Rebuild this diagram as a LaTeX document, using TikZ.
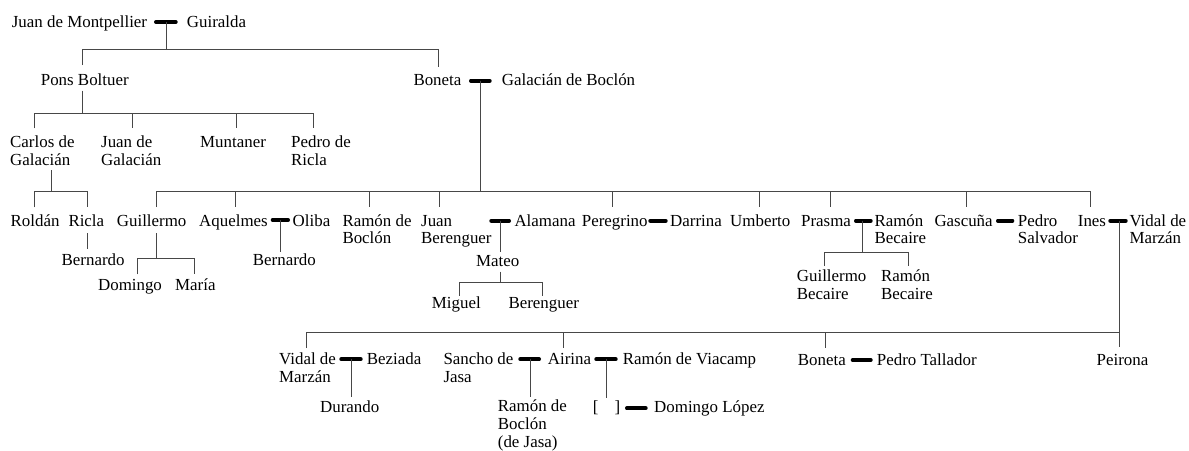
\documentclass[tikz,border=0pt]{standalone}
\usepackage{fontspec}
\setmainfont{Liberation Serif}
\begin{document}
\begin{tikzpicture}[x=1pt,y=-1pt,
  lbl/.style={anchor=base west, inner sep=0pt, font=\fontsize{16.9}{17.8}\selectfont, align=left},
  two/.style={lbl, yshift=-17.8pt},
  three/.style={lbl, yshift=-35.6pt},
  ln/.style={draw=black!72, line width=0.9pt},
  mar/.style={draw=black, line width=3.8pt, line cap=round}]
\useasboundingbox (0,0) rectangle (1189,450);
% ---------- people ----------
\node[lbl] (jm) at (11.7,27) {Juan de Montpellier};
\node[lbl] (gu) at (186.7,27) {Guiralda};
\node[lbl] (pons) at (40.7,85) {Pons Boltuer};
\node[lbl] (bon) at (413.3,85) {Boneta};
\node[lbl] (gal) at (501.7,85) {Galacián de Boclón};
\node[two] (carlos) at (10,147.7) {Carlos de\\Galacián};
\node[two] (juang) at (101,147.7) {Juan de\\Galacián};
\node[lbl] (munt) at (200,147.7) {Muntaner};
\node[two] (pedror) at (291,147.7) {Pedro de\\Ricla};
\node[lbl] (roldan) at (10.5,226) {Roldán};
\node[lbl] (ricla) at (68.3,226) {Ricla};
\node[lbl] (guill) at (116.7,226) {Guillermo};
\node[lbl] (aquel) at (199,226) {Aquelmes};
\node[lbl] (oliba) at (292.5,226) {Oliba};
\node[two] (ramonb) at (342.3,226) {Ramón de\\Boclón};
\node[two] (juanb) at (421,226) {Juan\\Berenguer};
\node[lbl] (alam) at (514.3,226) {Alamana};
\node[lbl] (pereg) at (581.7,226) {Peregrino};
\node[lbl] (darr) at (670,226) {Darrina};
\node[lbl] (umb) at (730,226) {Umberto};
\node[lbl] (prasma) at (801,226) {Prasma};
\node[two] (ramonbec) at (874.3,226) {Ramón\\Becaire};
\node[lbl] (gasc) at (934.3,226) {Gascuña};
\node[two] (pedros) at (1017.7,226) {Pedro\\Salvador};
\node[lbl] (ines) at (1077.7,226) {Ines};
\node[two] (vidal) at (1129.3,226) {Vidal de\\Marzán};
\node[lbl] (bern1) at (61.5,265) {Bernardo};
\node[lbl] (bern2) at (252.7,265) {Bernardo};
\node[lbl] (mateo) at (476,266.7) {Mateo};
\node[lbl] (domingo) at (97.9,290) {Domingo};
\node[lbl] (maria) at (175,290) {María};
\node[two] (guillb) at (796.7,281.7) {Guillermo\\Becaire};
\node[two] (ramonb2) at (881,281.7) {Ramón\\Becaire};
\node[lbl] (miguel) at (431.7,308.3) {Miguel};
\node[lbl] (bereng) at (508.3,308.3) {Berenguer};
\node[two] (vidal2) at (279,364.5) {Vidal de\\Marzán};
\node[lbl] (bez) at (366.7,364.5) {Beziada};
\node[two] (sancho) at (443.3,364.5) {Sancho de\\Jasa};
\node[lbl] (airina) at (547.7,364.5) {Airina};
\node[lbl] (ramonv) at (622.7,364.5) {Ramón de Viacamp};
\node[lbl] (bon2) at (797.7,365) {Boneta};
\node[lbl] (pedrot) at (876.7,365) {Pedro Tallador};
\node[lbl] (peir) at (1096.5,365) {Peirona};
\node[lbl] (durando) at (320,412.7) {Durando};
\node[three] (ramonbj) at (497.7,411.7) {Ramón de\\Boclón\\(de Jasa)};
\node[lbl] (unk) at (592.7,412) {[\hspace{16pt}]};
\node[lbl] (doml) at (654,412) {Domingo López};
% ---------- Juan de Montpellier + Guiralda ----------
\coordinate (m1a) at (155.9,22); \coordinate (m1b) at (175.8,22);
\coordinate (m1) at (166.3,22); \coordinate (h1) at (166.3,49.3);
\coordinate (h1l) at (82.3,49.3); \coordinate (h1r) at (438.3,49.3);
\draw[mar] (m1a) -- (m1b);
\draw[ln] (m1) -- (h1);
\draw[ln] (h1l) ++(0,15.7) -- (h1l) -- (h1r) -- ++(0,18);
% ---------- Pons Boltuer ----------
\coordinate (p0) at (82.3,90.7); \coordinate (p1) at (82.3,113.3);
\coordinate (p1l) at (34.3,113.3); \coordinate (p1r) at (313.3,113.3);
\coordinate (p1a) at (132.7,113.3); \coordinate (p1b) at (236.7,113.3);
\draw[ln] (p0) -- (p1);
\draw[ln] (p1l) ++(0,15) -- (p1l) -- (p1r) -- ++(0,15);
\draw[ln] (p1a) -- ++(0,15);
\draw[ln] (p1b) -- ++(0,15);
% Carlos de Galacian
\coordinate (c0) at (51,170); \coordinate (c1) at (51,191);
\coordinate (c1l) at (34.3,191); \coordinate (c1r) at (87.7,191);
\draw[ln] (c0) -- (c1);
\draw[ln] (c1l) ++(0,16.3) -- (c1l) -- (c1r) -- ++(0,16.3);
% Ricla
\coordinate (r0) at (87.7,233); \coordinate (r1) at (87.7,249.3);
\draw[ln] (r0) -- (r1);
% ---------- Boneta + Galacian de Boclon ----------
\coordinate (m2a) at (470.9,80.7); \coordinate (m2b) at (489.8,80.7);
\coordinate (m2) at (480,80.7); \coordinate (h2) at (480,191.7);
\coordinate (h2l) at (156.7,191.7); \coordinate (h2r) at (1090.7,191.7);
\draw[mar] (m2a) -- (m2b);
\draw[ln] (m2) -- (h2);
\draw[ln] (h2l) ++(0,15.3) -- (h2l) -- (h2r) -- ++(0,15.3);
\foreach \x in {235,369.3,439.3,612.7,759,830,966.7}
  \draw[ln] (\x,191.7) -- ++(0,15.3);
% Guillermo
\coordinate (g0) at (156.7,233); \coordinate (g1) at (156.7,258.5);
\coordinate (g1l) at (137.5,258.5); \coordinate (g1r) at (194,258.5);
\draw[ln] (g0) -- (g1);
\draw[ln] (g1l) ++(0,15.8) -- (g1l) -- (g1r) -- ++(0,15.8);
% Aquelmes + Oliba
\coordinate (m3a) at (272.6,220); \coordinate (m3b) at (288.1,220);
\coordinate (m3) at (280.5,220); \coordinate (m3d) at (280.5,252);
\draw[mar] (m3a) -- (m3b);
\draw[ln] (m3) -- (m3d);
% Juan Berenguer + Alamana
\coordinate (m4a) at (491.2,220.7); \coordinate (m4b) at (509.1,220.7);
\coordinate (m4) at (500,220.7); \coordinate (m4d) at (500,251.7);
\draw[mar] (m4a) -- (m4b);
\draw[ln] (m4) -- (m4d);
% Mateo
\coordinate (t0) at (500,271.7); \coordinate (t1) at (500,282.3);
\coordinate (t1l) at (459,282.3); \coordinate (t1r) at (542.7,282.3);
\draw[ln] (t0) -- (t1);
\draw[ln] (t1l) ++(0,13.2) -- (t1l) -- (t1r) -- ++(0,13.2);
% Peregrino + Darrina
\coordinate (m5a) at (650.2,220.7); \coordinate (m5b) at (665.8,220.7);
\draw[mar] (m5a) -- (m5b);
% Prasma + Ramon Becaire
\coordinate (m6a) at (855.9,220.7); \coordinate (m6b) at (870.8,220.7);
\coordinate (m6) at (862.7,220.7); \coordinate (m6d) at (862.7,252.7);
\coordinate (m6l) at (824.3,252.7); \coordinate (m6r) at (908.3,252.7);
\draw[mar] (m6a) -- (m6b);
\draw[ln] (m6) -- (m6d);
\draw[ln] (m6l) ++(0,13.3) -- (m6l) -- (m6r) -- ++(0,13.3);
% Gascuna + Pedro Salvador
\coordinate (m7a) at (997.9,220.7); \coordinate (m7b) at (1012.4,220.7);
\draw[mar] (m7a) -- (m7b);
% Ines + Vidal de Marzan
\coordinate (m8a) at (1110.2,220.7); \coordinate (m8b) at (1125.8,220.7);
\coordinate (m8) at (1119,220.7); \coordinate (m8d) at (1119,346.7);
\coordinate (h3l) at (306.7,332); \coordinate (h3r) at (1119,332);
\coordinate (h3a) at (563.3,332); \coordinate (h3b) at (825,332);
\draw[mar] (m8a) -- (m8b);
\draw[ln] (m8) -- (m8d);
\draw[ln] (h3l) ++(0,16) -- (h3l) -- (h3r);
\draw[ln] (h3a) -- ++(0,16);
\draw[ln] (h3b) -- ++(0,16);
% Vidal de Marzan + Beziada
\coordinate (m9a) at (341.2,359.3); \coordinate (m9b) at (360.8,359.3);
\coordinate (m9) at (351,359.3); \coordinate (m9d) at (351,397.3);
\draw[mar] (m9a) -- (m9b);
\draw[ln] (m9) -- (m9d);
% Sancho de Jasa + Airina
\coordinate (m10a) at (520.2,359.3); \coordinate (m10b) at (539.1,359.3);
\coordinate (m10) at (530,359.3); \coordinate (m10d) at (530,397.3);
\draw[mar] (m10a) -- (m10b);
\draw[ln] (m10) -- (m10d);
% Airina + Ramon de Viacamp
\coordinate (m11a) at (596.2,359.3); \coordinate (m11b) at (615.8,359.3);
\coordinate (m11) at (606,359.3); \coordinate (m11d) at (606,398.3);
\draw[mar] (m11a) -- (m11b);
\draw[ln] (m11) -- (m11d);
% [ ] + Domingo Lopez
\coordinate (m12a) at (626.9,408.3); \coordinate (m12b) at (645.8,408.3);
\draw[mar] (m12a) -- (m12b);
% Boneta + Pedro Tallador
\coordinate (m13a) at (852.6,360); \coordinate (m13b) at (870.8,360);
\draw[mar] (m13a) -- (m13b);
\end{tikzpicture}
\end{document}
